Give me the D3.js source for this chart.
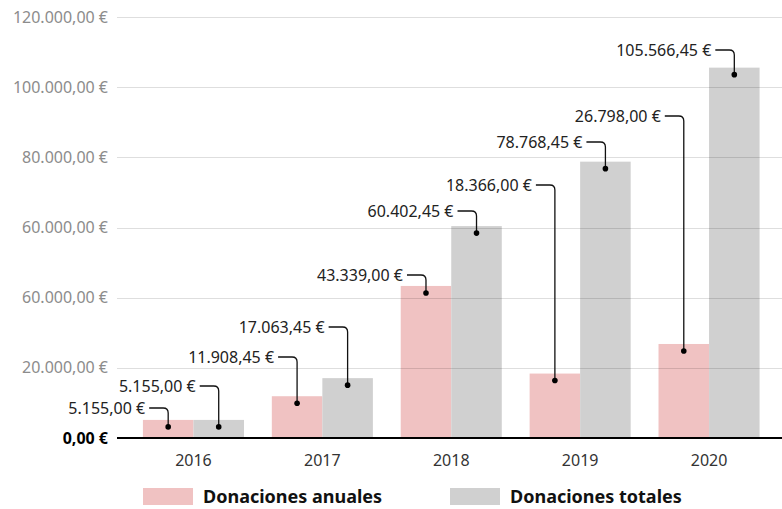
<!DOCTYPE html>
<html>
<head>
<meta charset="utf-8">
<script src="https://cdn.jsdelivr.net/npm/d3@7"></script>
<style>
  body { margin: 0; background: #fff; }
  svg { font-family: "Noto Sans", sans-serif; }
</style>
</head>
<body>
<svg id="chart"></svg>
<script>
// values
const years = ["2016", "2017", "2018", "2019", "2020"];
const seriesNames = ["Donaciones anuales", "Donaciones totales"];
const annual = [5155.00, 11908.45, 43339.00, 18366.00, 26798.00];
const total = [5155.00, 17063.45, 60402.45, 78768.45, 105566.45];
const tickValues = [0, 20000, 40000, 60000, 80000, 100000, 120000];
// the source chart labels the 40.000 line as "60.000,00 €"
const tickLabels = ["0,00 €", "20.000,00 €", "60.000,00 €", "60.000,00 €", "80.000,00 €", "100.000,00 €", "120.000,00 €"];
const colors = ["#f0c2c2", "#d0d0d0"];

// layout only: pixel height of each callout label (annual, total) per year
const labelY = [[408, 386], [357, 327], [275, 211], [185, 142], [116, 50]];

const width = 782, height = 509;
const margin = {left: 117, right: 0, top: 17, bottom: 71};

const svg = d3.select("#chart").attr("width", width).attr("height", height);

const euro = d3.formatLocale({decimal: ",", thousands: ".", grouping: [3], currency: ["", " €"]});
const fmt = v => euro.format(",.2f")(v) + " €";

const y = d3.scaleLinear().domain([0, 120000]).range([height - margin.bottom, margin.top]);

const x0 = d3.scaleBand()
  .domain(years)
  .range([129, 773.5])
  .paddingInner(0.216)
  .paddingOuter(0.108);

const x1 = d3.scaleBand()
  .domain(seriesNames)
  .range([0, x0.bandwidth()]);

const rows = years.map((yr, i) => ({year: yr, values: [annual[i], total[i]], labels: labelY[i]}));

// bars
const groups = svg.append("g").selectAll("g")
  .data(rows)
  .join("g")
  .attr("transform", d => `translate(${x0(d.year)},0)`);

groups.selectAll("rect")
  .data(d => d.values.map((v, j) => ({v, j})))
  .join("rect")
  .attr("x", d => x1(seriesNames[d.j]))
  .attr("y", d => y(d.v))
  .attr("width", x1.bandwidth())
  .attr("height", d => y(0) - y(d.v))
  .attr("fill", d => colors[d.j]);

// grid lines drawn over the bars
svg.append("g")
  .selectAll("line")
  .data(tickValues.slice(1))
  .join("line")
  .attr("x1", margin.left)
  .attr("x2", width)
  .attr("y1", d => Math.round(y(d)) + 0.5)
  .attr("y2", d => Math.round(y(d)) + 0.5)
  .attr("stroke", "#000")
  .attr("stroke-opacity", 0.13);

// zero line
svg.append("line")
  .attr("x1", margin.left).attr("x2", width)
  .attr("y1", y(0)).attr("y2", y(0))
  .attr("stroke", "#000").attr("stroke-width", 2);

// y axis labels
const yAxisG = svg.append("g")
  .attr("transform", `translate(${margin.left},0)`)
  .call(d3.axisLeft(y).tickValues(tickValues).tickSize(0).tickPadding(9)
    .tickFormat((d, i) => tickLabels[i]));
yAxisG.select(".domain").remove();
yAxisG.selectAll("text")
  .style("font-family", "'Noto Sans', sans-serif")
  .style("font-size", "16px")
  .attr("fill", (d, i) => i === 0 ? "#000" : "#8c8c8c")
  .style("font-weight", (d, i) => i === 0 ? 700 : 400);

// x axis labels
const xAxisG = svg.append("g")
  .attr("transform", `translate(0,${y(0) + 8})`)
  .call(d3.axisBottom(x0).tickSize(0).tickPadding(9));
xAxisG.select(".domain").remove();
xAxisG.selectAll("text")
  .style("font-family", "'Noto Sans', sans-serif")
  .style("font-size", "16px")
  .attr("fill", "#333");

// callouts
const callouts = [];
rows.forEach(r => r.values.forEach((v, j) => {
  callouts.push({
    cx: x0(r.year) + x1(seriesNames[j]) + x1.bandwidth() / 2,
    cy: y(v) + 7,
    ly: r.labels[j],
    text: fmt(v)
  });
}));

const rad = 5;
const cg = svg.append("g");
cg.selectAll("path")
  .data(callouts)
  .join("path")
  .attr("fill", "none")
  .attr("stroke", "#111")
  .attr("stroke-width", 1.3)
  .attr("d", d => `M${d.cx - 19},${d.ly}H${d.cx - rad}Q${d.cx},${d.ly} ${d.cx},${d.ly + rad}V${d.cy}`);

cg.selectAll("circle")
  .data(callouts)
  .join("circle")
  .attr("cx", d => d.cx)
  .attr("cy", d => d.cy)
  .attr("r", 2.8)
  .attr("fill", "#000");

cg.selectAll("text")
  .data(callouts)
  .join("text")
  .attr("x", d => d.cx - 23)
  .attr("y", d => d.ly)
  .attr("dy", "0.35em")
  .attr("text-anchor", "end")
  .attr("fill", "#222")
  .style("font-size", "16px")
  .text(d => d.text);

// legend
const legend = svg.append("g")
  .selectAll("g")
  .data(seriesNames)
  .join("g")
  .attr("transform", (d, i) => `translate(${[143, 450][i]},488)`);

legend.append("rect")
  .attr("width", 50)
  .attr("height", 17)
  .attr("fill", (d, i) => colors[i]);

legend.append("text")
  .attr("x", 60)
  .attr("y", 9)
  .attr("dy", "0.35em")
  .attr("fill", "#111")
  .style("font-size", "18px")
  .style("font-weight", 700)
  .text(d => d);
</script>
</body>
</html>
